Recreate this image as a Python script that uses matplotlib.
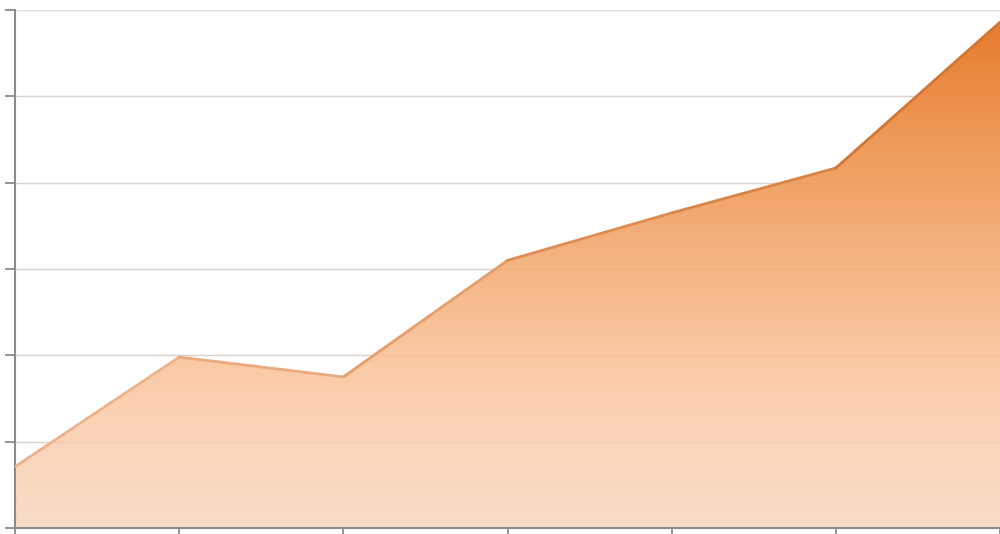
import numpy as np
import matplotlib.pyplot as plt
from matplotlib.colors import LinearSegmentedColormap
from matplotlib.patches import PathPatch
from matplotlib.collections import LineCollection

x = [0, 1, 2, 3, 4, 5, 6]
values = [0.71, 1.98, 1.75, 3.10, 3.65, 4.17, 5.86]

fig = plt.figure(figsize=(10, 5.34), dpi=100)
ax = fig.add_axes([0.015, 0.0112, 0.985, 0.9700])

ax.set_xlim(0, 6)
ax.set_ylim(0, 6)

# vertical gradient fill, clipped by the area polygon
cmap = LinearSegmentedColormap.from_list(
    'peach', ['#f8dcc8', '#fbd0b0', '#f5b585', '#ee9a58', '#e6782a'])
grad = np.linspace(0, 1, 256).reshape(-1, 1)
img = ax.imshow(grad, extent=[0, 6, 0, 6], origin='lower', aspect='auto',
                cmap=cmap, zorder=1)
area = ax.fill_between(x, values, 0, color='none', lw=0)
clip = PathPatch(area.get_paths()[0], transform=ax.transData,
                 facecolor='none', edgecolor='none')
ax.add_patch(clip)
img.set_clip_path(clip)

# outline: a darker shade of the fill at each height
line_cmap = LinearSegmentedColormap.from_list(
    'edge', ['#f2c4a0', '#eeb088', '#e0935a', '#d47c3e', '#c96a28'])
pts = np.column_stack([x, values])
segs = np.stack([pts[:-1], pts[1:]], axis=1)
mid = (np.array(values[:-1]) + np.array(values[1:])) / 2 / 6
lc = LineCollection(segs, colors=line_cmap(mid), linewidths=2,
                    capstyle='round', joinstyle='round', zorder=4)
ax.add_collection(lc)

ax.set_yticks(range(0, 7))
ax.set_xticks(x)
ax.set_xticklabels([])
ax.set_yticklabels([])
ax.grid(axis='y', color='#dcdcdc', lw=1, zorder=0)
ax.set_axisbelow(True)
# faint grid showing through the fill
for v in range(1, 6):
    ax.axhline(v, color='#c89070', lw=1, alpha=0.12, zorder=2)

for s in ['top', 'right']:
    ax.spines[s].set_visible(False)
for s in ['left', 'bottom']:
    ax.spines[s].set_color('#8c8c8c')
    ax.spines[s].set_linewidth(1.5)
ax.tick_params(direction='out', length=7, width=1.3, color='#8c8c8c')

fig.savefig('out.png', dpi=100)
